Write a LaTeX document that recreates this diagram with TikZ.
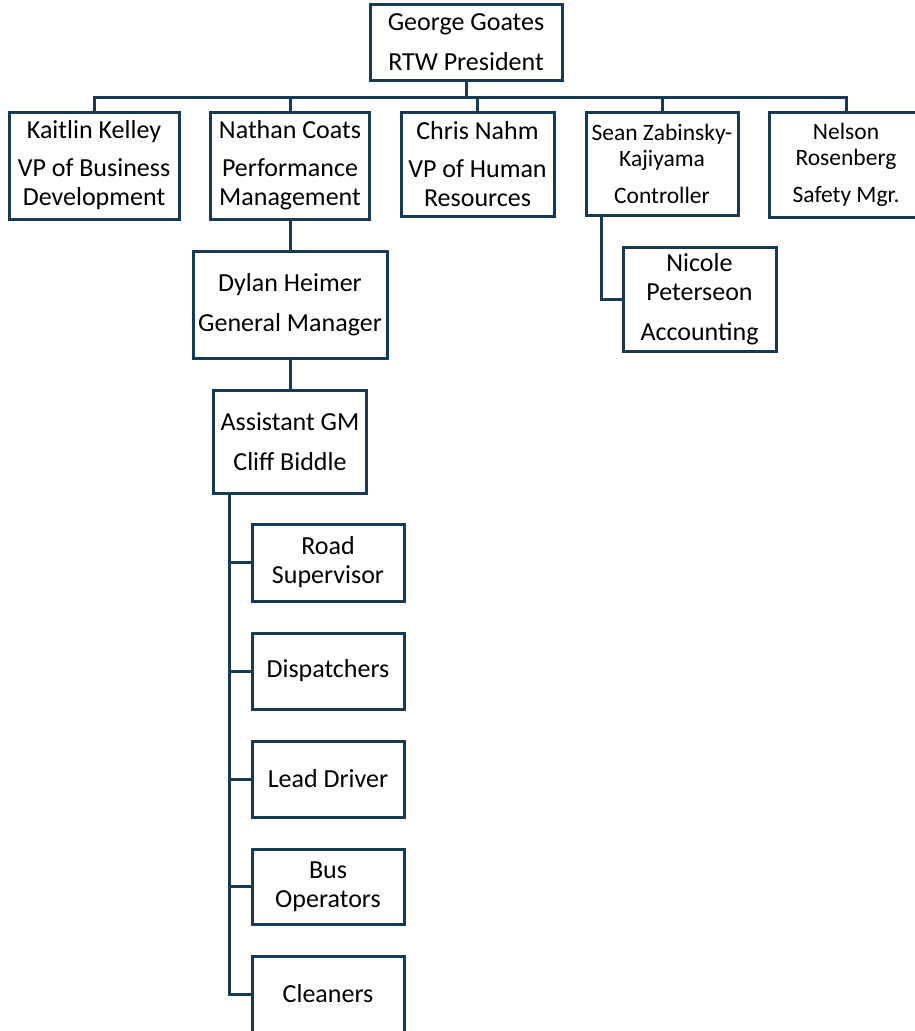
\documentclass[tikz,border=0pt]{standalone}
\usepackage{fontspec}
\setmainfont{Carlito}
\definecolor{navy}{HTML}{173A54}
\begin{document}
\begin{tikzpicture}[x=1pt,y=-1pt,
  box/.style={draw=navy,line width=3pt,fill=white,inner sep=0pt,align=center,
    font=\fontsize{26}{29}\selectfont},
  sbox/.style={box,font=\fontsize{23.5}{26}\selectfont},
  link/.style={draw=navy,line width=3pt}]
\useasboundingbox (0,0) rectangle (914,1031);
% top level
\node[box,minimum width=192,minimum height=76] (george) at (466,42) {George Goates\\[11pt]RTW President};
\node[box,minimum width=170,minimum height=107] (kaitlin) at (94,165.5) {Kaitlin Kelley\\[9pt]VP of Business\\Development};
\node[box,minimum width=159,minimum height=107] (nathan) at (290,165.5) {Nathan Coats\\[9pt]Performance\\Management};
\node[box,minimum width=153,minimum height=104] (chris) at (477.5,164) {Chris Nahm\\[9pt]VP of Human\\Resources};
\node[sbox,minimum width=152,minimum height=103] (sean) at (662,163.5) {Sean Zabinsky-\\Kajiyama\\[11pt]Controller};
\node[sbox,minimum width=154,minimum height=105] (nelson) at (846,164.5) {Nelson\\Rosenberg\\[11pt]Safety Mgr.};
\node[box,minimum width=153,minimum height=104] (nicole) at (699.5,299) {Nicole\\Peterseon\\[11pt]Accounting};
\node[box,minimum width=194,minimum height=107] (dylan) at (290,304.5) {Dylan Heimer\\[11pt]General Manager};
\node[box,minimum width=153,minimum height=103] (agm) at (290,441.5) {Assistant GM\\[11pt]Cliff Biddle};
\node[box,minimum width=152,minimum height=77] (road) at (328,562.5) {Road\\Supervisor};
\node[box,minimum width=152,minimum height=76] (disp) at (328,671) {Dispatchers};
\node[box,minimum width=152,minimum height=76] (lead) at (328,779) {Lead Driver};
\node[box,minimum width=152,minimum height=75] (bus) at (328,886.5) {Bus\\Operators};
\node[box,minimum width=152,minimum height=76] (clean) at (328,994) {Cleaners};
% connectors
\coordinate (bar) at (466,97);
\draw[link] (george.south) -- (bar);
\draw[link] (kaitlin.north) -- (kaitlin.north |- bar) -- (nelson.north |- bar) -- (nelson.north);
\draw[link] (nathan.north) -- (nathan.north |- bar);
\draw[link] (chris.north) -- (chris.north |- bar);
\draw[link] (sean.north) -- (sean.north |- bar);
\draw[link] (nathan.south) -- (dylan.north);
\draw[link] (dylan.south) -- (agm.north);
\coordinate (sk) at (601,299);
\draw[link] (sk |- sean.south) -- (sk) -- (nicole.west);
\coordinate (trunk) at (229.5,993);
\draw[link] (trunk |- agm.south) -- (trunk |- clean.west) -- (clean.west);
\draw[link] (trunk |- road.west) -- (road.west);
\draw[link] (trunk |- disp.west) -- (disp.west);
\draw[link] (trunk |- lead.west) -- (lead.west);
\draw[link] (trunk |- bus.west) -- (bus.west);
\end{tikzpicture}
\end{document}
